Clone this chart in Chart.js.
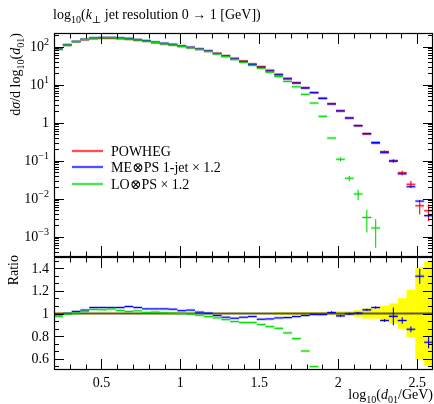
<!DOCTYPE html>
<html>
<head>
<meta charset="utf-8">
<script src="https://cdn.jsdelivr.net/npm/chart.js@4.4.0/dist/chart.umd.min.js"></script>
<style>
  html, body { margin: 0; padding: 0; background: #fff; }
  #wrap { position: relative; width: 434px; height: 404px; }
  canvas { position: absolute; left: 0; top: 0; }
</style>
</head>
<body>
<div id="wrap">
  <canvas id="mainChart" width="434" height="404"></canvas>
  <canvas id="ratioChart" width="434" height="404"></canvas>
</div>
<script>
// bin centres in log10(d01/GeV), all bins have the same width
const binCentres = [0.228, 0.284, 0.340, 0.395, 0.451, 0.507, 0.563, 0.619, 0.674, 0.730,
  0.786, 0.842, 0.898, 0.953, 1.009, 1.065, 1.121, 1.177, 1.233, 1.288,
  1.344, 1.400, 1.456, 1.512, 1.567, 1.623, 1.679, 1.735, 1.791, 1.847,
  1.902, 1.958, 2.014, 2.070, 2.126, 2.181, 2.237, 2.293, 2.349, 2.405,
  2.460, 2.516, 2.572];
const binHalf = 0.0279;

// POWHEG (reference) cross section and relative uncertainty
const powheg = [88, 111, 135, 152, 162, 166, 166, 162, 156, 147,
  139, 127, 118, 111, 102, 94, 86, 77, 67, 58,
  49.5, 42, 35, 30, 24, 18.8, 14.7, 11.3, 8.3, 6.2,
  4.4, 3.1, 2.07, 1.33, 0.83, 0.50, 0.287, 0.173, 0.10, 0.048,
  0.024, 0.0065, 0.0048];
const powhegErr = [0.005, 0.005, 0.005, 0.005, 0.005, 0.005, 0.005, 0.005, 0.005, 0.005,
  0.005, 0.005, 0.005, 0.005, 0.005, 0.005, 0.005, 0.005, 0.005, 0.005,
  0.005, 0.005, 0.005, 0.005, 0.005, 0.01, 0.01, 0.01, 0.01, 0.012,
  0.012, 0.012, 0.02, 0.02, 0.03, 0.045, 0.045, 0.07, 0.09, 0.135,
  0.21, 0.41, 0.46];

// ME+PS 1-jet x 1.2, as ratio to POWHEG
const mepsRatio = [0.99, 1.0, 1.018, 1.03, 1.053, 1.053, 1.053, 1.053, 1.062, 1.053,
  1.041, 1.041, 1.041, 1.038, 1.025, 1.03, 1.012, 1.003, 0.982, 0.967,
  0.958, 0.967, 0.973, 0.949, 0.952, 0.961, 0.964, 0.973, 0.982, 0.991,
  0.99, 1.009, 0.979, 0.997, 1.003, 1.032, 1.053, 0.938, 0.975, 0.938,
  0.86, 1.33, 0.745];
const mepsErr = [0.005, 0.005, 0.005, 0.005, 0.005, 0.005, 0.005, 0.005, 0.005, 0.005,
  0.005, 0.005, 0.005, 0.005, 0.005, 0.005, 0.005, 0.005, 0.005, 0.005,
  0.005, 0.005, 0.005, 0.005, 0.005, 0.005, 0.005, 0.005, 0.005, 0.005,
  0.005, 0.01, 0.01, 0.01, 0.01, 0.01, 0.01, 0.015, 0.08, 0.03,
  0.03, 0.05, 0.07];

// LO+PS x 1.2, as ratio to POWHEG
const lopsRatio = [0.975, 0.995, 1.005, 1.02, 1.036, 1.033, 1.04, 1.027, 1.018, 1.024,
  1.009, 1.012, 1.006, 1.003, 1.0, 0.995, 0.985, 0.973, 0.961, 0.946,
  0.929, 0.92, 0.92, 0.902, 0.884, 0.869, 0.828, 0.778, 0.668, 0.53,
  0.334, 0.127, 0.0527, 0.0259, 0.016, 0.0064, 0.0059, null, null, null,
  null, null, null];
const lopsErr = [0.005, 0.005, 0.005, 0.005, 0.005, 0.005, 0.005, 0.005, 0.005, 0.005,
  0.005, 0.005, 0.005, 0.005, 0.005, 0.005, 0.005, 0.005, 0.005, 0.005,
  0.005, 0.005, 0.005, 0.005, 0.005, 0.005, 0.005, 0.005, 0.01, 0.01,
  0.02, 0.06, 0.12, 0.17, 0.3, 0.6, 0.7, null, null, null,
  null, null, null];

const xTickValues = [0.5, 1, 1.5, 2, 2.5];
const xTickLabels = ['0.5', '1', '1.5', '2', '2.5'];
const mainTickValues = [1e-3, 1e-2, 1e-1, 1, 10, 100];
const mainTickLabels = ['10^{\u22123}', '10^{\u22122}', '10^{\u22121}', '1', '10^{1}', '10^{2}'];
const ratioTickValues = [0.6, 0.8, 1, 1.2, 1.4];
const ratioTickLabels = ['0.6', '0.8', '1', '1.2', '1.4'];

const seriesNames = ['POWHEG', 'ME\u2297PS 1-jet \u00d7 1.2', 'LO\u2297PS \u00d7 1.2'];
const seriesColors = ['#ff0000', '#0000ff', '#00dd00'];
const seriesHalos = ['rgba(255,0,0,0.22)', 'rgba(0,0,255,0.22)', 'rgba(0,210,0,0.25)'];

const titleText = 'log_{10}($k$_{\u22a5} jet resolution 0 \u2192 1 [GeV])';
const yLabelText = 'd$\u03c3$/d log_{10}($d$_{01})';
const xLabelText = 'log_{10}($d$_{01}/GeV)';

const serif = '"Liberation Serif", "DejaVu Serif", serif';
const fsize = 14;

// tiny markup: _{..} sub, ^{..} sup, $..$ italic
function parseRich(s) {
  const parts = [];
  let buf = '', it = false, i = 0;
  const push = (t, mode) => { if (t) parts.push({ t: t, mode: mode, it: it }); };
  while (i < s.length) {
    const c = s[i];
    if (c === '$') { push(buf, 0); buf = ''; it = !it; i++; }
    else if ((c === '_' || c === '^') && s[i + 1] === '{') {
      push(buf, 0); buf = '';
      const j = s.indexOf('}', i);
      push(s.slice(i + 2, j), c === '_' ? -1 : 1);
      i = j + 1;
    } else { buf += c; i++; }
  }
  push(buf, 0);
  return parts;
}
function partFont(p, size) {
  const sz = p.mode ? size * 0.72 : size;
  return (p.it ? 'italic ' : '') + sz.toFixed(1) + 'px ' + serif;
}
function drawRich(ctx, s, x, y, align, size) {
  const parts = parseRich(s);
  let w = 0;
  parts.forEach(p => { ctx.font = partFont(p, size); p.w = ctx.measureText(p.t).width; w += p.w; });
  let cx = align === 'right' ? x - w : (align === 'center' ? x - w / 2 : x);
  ctx.textAlign = 'left';
  ctx.textBaseline = 'alphabetic';
  ctx.fillStyle = '#000';
  parts.forEach(p => {
    ctx.font = partFont(p, size);
    const dy = p.mode === -1 ? size * 0.28 : (p.mode === 1 ? -size * 0.42 : 0);
    ctx.fillText(p.t, cx, y + dy);
    cx += p.w;
  });
}

function makePoints(vals, errs) {
  const pts = [];
  vals.forEach((v, i) => { if (v != null) pts.push({ x: binCentres[i], y: v, e: v * errs[i] }); });
  return pts;
}

// histogram segments with error bars
function drawHisto(chart, idx) {
  const ctx = chart.ctx, xs = chart.scales.x, ys = chart.scales.y;
  const ds = chart.data.datasets[idx];
  ds.data.forEach(p => {
    const x0 = xs.getPixelForValue(p.x - binHalf);
    const x1 = xs.getPixelForValue(p.x + binHalf);
    const xc = xs.getPixelForValue(p.x);
    const y = ys.getPixelForValue(p.y);
    ctx.fillStyle = ds.halo;
    ctx.fillRect(x0, y - 1.5, x1 - x0, 3);
    const lo = Math.max(p.y - p.e, p.y * 0.01);
    const yUp = ys.getPixelForValue(p.y + p.e), yDn = ys.getPixelForValue(lo);
    ctx.strokeStyle = ds.color;
    ctx.lineWidth = 1.1;
    ctx.beginPath();
    ctx.moveTo(x0, y); ctx.lineTo(x1, y);
    if (yDn - yUp > 2) { ctx.moveTo(xc, yUp); ctx.lineTo(xc, yDn); }
    ctx.stroke();
  });
}

function xMinorTicks() {
  const out = [];
  for (let i = 3; i <= 25; i++) { const v = i / 10; if (i % 5 !== 0) out.push(v); }
  return out;
}

function drawFrame(chart, yMajor, yMinor) {
  const ctx = chart.ctx, a = chart.chartArea, xs = chart.scales.x, ys = chart.scales.y;
  ctx.save();
  ctx.strokeStyle = '#000';
  ctx.lineWidth = 1;
  ctx.beginPath();
  const xt = (vals, len) => vals.forEach(v => {
    const px = Math.round(xs.getPixelForValue(v)) + 0.5;
    ctx.moveTo(px, a.top); ctx.lineTo(px, a.top + len);
    ctx.moveTo(px, a.bottom); ctx.lineTo(px, a.bottom - len);
  });
  const yt = (vals, len) => vals.forEach(v => {
    const py = Math.round(ys.getPixelForValue(v)) + 0.5;
    if (py < a.top + 1 || py > a.bottom - 1) return;
    ctx.moveTo(a.left, py); ctx.lineTo(a.left + len, py);
    ctx.moveTo(a.right, py); ctx.lineTo(a.right - len, py);
  });
  xt(xTickValues, 11); xt(xMinorTicks(), 5.5);
  yt(yMajor, 10); yt(yMinor, 5);
  ctx.stroke();
  ctx.lineWidth = 1.2;
  ctx.strokeRect(a.left + 0.5, a.top + 0.5, a.right - a.left - 1, a.bottom - a.top - 1);
  ctx.restore();
}

const mainPlugin = {
  id: 'mainDraw',
  afterDatasetsDraw(chart) {
    const ctx = chart.ctx, a = chart.chartArea, ys = chart.scales.y;
    ctx.save();
    ctx.beginPath(); ctx.rect(a.left, a.top, a.right - a.left, a.bottom - a.top); ctx.clip();
    chart.data.datasets.forEach((d, i) => drawHisto(chart, i));
    ctx.restore();

    const minor = [];
    for (let e = -4; e <= 2; e++) for (let m = 2; m <= 9; m++) minor.push(m * Math.pow(10, e));
    drawFrame(chart, mainTickValues, minor);

    ctx.save();
    mainTickValues.forEach((v, i) => drawRich(ctx, mainTickLabels[i], 49, ys.getPixelForValue(v) + 4.5, 'right', fsize));
    drawRich(ctx, titleText, 53, 19, 'left', fsize);
    ctx.translate(20, 33); ctx.rotate(-Math.PI / 2);
    drawRich(ctx, yLabelText, 0, 0, 'right', fsize);
    ctx.restore();

    // legend
    const legY = [151, 167, 184];
    ctx.save();
    seriesNames.forEach((n, i) => {
      ctx.fillStyle = seriesHalos[i];
      ctx.fillRect(72, legY[i] - 1.5, 31, 3);
      ctx.strokeStyle = seriesColors[i]; ctx.lineWidth = 1.2;
      ctx.beginPath(); ctx.moveTo(72, legY[i]); ctx.lineTo(103, legY[i]); ctx.stroke();
      drawRich(ctx, n, 111, legY[i] + 4.5, 'left', fsize);
    });
    ctx.restore();
  }
};

const ratioPlugin = {
  id: 'ratioDraw',
  beforeDatasetsDraw(chart) {
    const ctx = chart.ctx, a = chart.chartArea, xs = chart.scales.x, ys = chart.scales.y;
    ctx.save();
    ctx.beginPath(); ctx.rect(a.left, a.top, a.right - a.left, a.bottom - a.top); ctx.clip();
    ctx.fillStyle = '#ffff00';
    binCentres.forEach((c, i) => {
      const x0 = xs.getPixelForValue(c - binHalf), x1 = xs.getPixelForValue(c + binHalf);
      const y0 = ys.getPixelForValue(1 + powhegErr[i]), y1 = ys.getPixelForValue(1 - powhegErr[i]);
      ctx.fillRect(x0, y0, x1 - x0 + 0.3, y1 - y0);
    });
    const y1 = ys.getPixelForValue(1);
    ctx.strokeStyle = '#5e5a12'; ctx.lineWidth = 2.2;
    ctx.beginPath();
    ctx.moveTo(xs.getPixelForValue(binCentres[0] - binHalf), y1);
    ctx.lineTo(xs.getPixelForValue(binCentres[binCentres.length - 1] + binHalf), y1);
    ctx.stroke();
    ctx.restore();
  },
  afterDatasetsDraw(chart) {
    const ctx = chart.ctx, a = chart.chartArea, xs = chart.scales.x, ys = chart.scales.y;
    ctx.save();
    ctx.beginPath(); ctx.rect(a.left, a.top, a.right - a.left, a.bottom - a.top); ctx.clip();
    chart.data.datasets.forEach((d, i) => drawHisto(chart, i));
    ctx.restore();

    const minor = [];
    for (let i = -1; i <= 14; i++) { const v = 0.6 + i * 0.2 / 3; if (i % 3 !== 0) minor.push(v); }
    drawFrame(chart, ratioTickValues, minor);

    ctx.save();
    ratioTickValues.forEach((v, i) => drawRich(ctx, ratioTickLabels[i], 49, ys.getPixelForValue(v) + 4.5, 'right', fsize));
    xTickValues.forEach((v, i) => drawRich(ctx, xTickLabels[i], xs.getPixelForValue(v), 387, 'center', fsize));
    drawRich(ctx, xLabelText, 433, 399, 'right', fsize);
    ctx.translate(18, 255); ctx.rotate(-Math.PI / 2);
    drawRich(ctx, 'Ratio', 0, 0, 'right', fsize);
    ctx.restore();
  }
};

const commonOpts = {
  responsive: false,
  animation: false,
  devicePixelRatio: 1,
  plugins: { legend: { display: false }, tooltip: { enabled: false } },
  elements: { point: { radius: 0, hoverRadius: 0 } }
};

const mepsMain = powheg.map((v, i) => v * mepsRatio[i]);
const lopsMain = powheg.map((v, i) => lopsRatio[i] == null ? null : v * lopsRatio[i]);

new Chart(document.getElementById('mainChart'), {
  type: 'scatter',
  data: {
    datasets: [
      { label: seriesNames[0], data: makePoints(powheg, powhegErr), color: seriesColors[0], halo: seriesHalos[0], showLine: false },
      { label: seriesNames[1], data: makePoints(mepsMain, mepsErr), color: seriesColors[1], halo: seriesHalos[1], showLine: false },
      { label: seriesNames[2], data: makePoints(lopsMain, lopsErr), color: seriesColors[2], halo: seriesHalos[2], showLine: false }
    ]
  },
  options: Object.assign({}, commonOpts, {
    layout: { padding: { left: 54, right: 1, top: 33, bottom: 147 } },
    scales: {
      x: { type: 'linear', min: 0.2, max: 2.6, display: false },
      y: { type: 'logarithmic', min: 2.92e-4, max: 229, display: false }
    }
  }),
  plugins: [mainPlugin]
});

new Chart(document.getElementById('ratioChart'), {
  type: 'scatter',
  data: {
    datasets: [
      { label: seriesNames[1], data: makePoints(mepsRatio, mepsErr), color: seriesColors[1], halo: seriesHalos[1], showLine: false },
      { label: seriesNames[2], data: makePoints(lopsRatio, lopsErr), color: seriesColors[2], halo: seriesHalos[2], showLine: false }
    ]
  },
  options: Object.assign({}, commonOpts, {
    layout: { padding: { left: 54, right: 1, top: 257, bottom: 34 } },
    scales: {
      x: { type: 'linear', min: 0.2, max: 2.6, display: false },
      y: { type: 'linear', min: 0.5, max: 1.5, display: false }
    }
  }),
  plugins: [ratioPlugin]
});
</script>
</body>
</html>
